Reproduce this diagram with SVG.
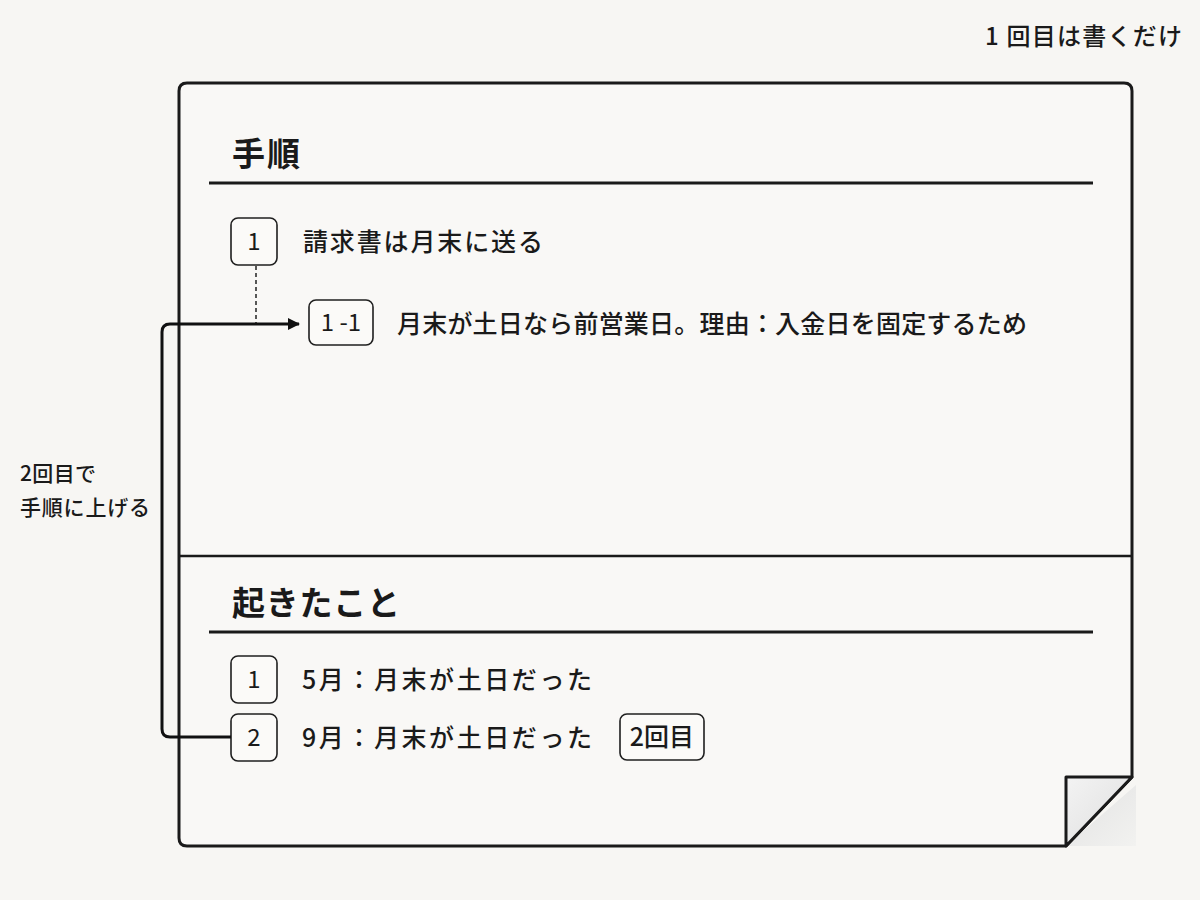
<svg xmlns="http://www.w3.org/2000/svg" width="1200" height="900" viewBox="0 0 1200 900">
<style>
.t{font-family:"Noto Sans CJK JP","Noto Sans",sans-serif;fill:#1a1a1a;font-weight:500}
.h{font-size:33px;font-weight:700}
.b{font-size:25px}
.n{font-size:24px;font-weight:400}
.s{font-size:21px}
.box{fill:#fbfaf8;stroke:#1f1f1f;stroke-width:1.6}
</style>
<defs>
<marker id="ah" markerWidth="12" markerHeight="12" refX="11" refY="6" orient="auto" markerUnits="userSpaceOnUse" viewBox="0 0 12 12">
<path d="M0,0 L12,6 L0,12 z" fill="#111"/>
</marker>
<linearGradient id="fold" x1="0" y1="0" x2="1" y2="1">
<stop offset="0" stop-color="#f3f3f3"/><stop offset="1" stop-color="#dedede"/>
</linearGradient>
<linearGradient id="shadow" x1="0" y1="0" x2="1" y2="1">
<stop offset="0" stop-color="#e2e2e2"/><stop offset="1" stop-color="#f2f2f0"/>
</linearGradient>
</defs>
<rect width="1200" height="900" fill="#f7f6f3"/>
<g id="note-card">
<path d="M1066,846 L1136,846 L1136,785 Z" fill="url(#shadow)"/>
<path d="M187,83 L1124,83 Q1132,83 1132,91 L1132,777 L1066,846 L187,846 Q179,846 179,838 L179,91 Q179,83 187,83 Z" fill="#f9f8f6" stroke="#1a1a1a" stroke-width="3" stroke-linejoin="round"/>
<path d="M1066,777 L1132,777 L1066,846 Z" fill="url(#fold)" stroke="#1a1a1a" stroke-width="3" stroke-linejoin="round"/>
<line x1="179" y1="556" x2="1132" y2="556" stroke="#1a1a1a" stroke-width="2.5"/>
</g>
<g id="note-top">
<text class="t" x="985" y="45" font-size="24" textLength="197" lengthAdjust="spacing">1 回目は書くだけ</text>
</g>
<g id="section-procedure">
<text class="t h" x="232" y="166" textLength="68" lengthAdjust="spacing">手順</text>
<line x1="209" y1="183" x2="1093" y2="183" stroke="#1a1a1a" stroke-width="3"/>
</g>
<g id="step-1">
<rect class="box" x="231" y="218" width="46" height="47" rx="7"/>
<text class="t n" x="254" y="250" text-anchor="middle">1</text>
<text class="t b" x="303" y="251" textLength="240" lengthAdjust="spacing">請求書は月末に送る</text>
</g>
<g id="step-1-1">
<rect class="box" x="309" y="300" width="64" height="45" rx="7"/>
<text class="t n" x="341" y="331" text-anchor="middle">1 -1</text>
<text class="t b" x="397" y="333" textLength="630" lengthAdjust="spacing">月末が土日なら前営業日。理由：入金日を固定するため</text>
</g>
<g id="section-events">
<text class="t h" x="232" y="615" textLength="168" lengthAdjust="spacing">起きたこと</text>
<line x1="209" y1="632" x2="1093" y2="632" stroke="#1a1a1a" stroke-width="3"/>
</g>
<g id="event-1">
<rect class="box" x="231" y="656" width="46" height="47" rx="7"/>
<text class="t n" x="254" y="688" text-anchor="middle">1</text>
<text class="t b" x="302" y="689" textLength="290" lengthAdjust="spacing">5月：月末が土日だった</text>
</g>
<g id="event-2">
<rect class="box" x="231" y="714" width="46" height="47" rx="7"/>
<text class="t n" x="254" y="746" text-anchor="middle">2</text>
<text class="t b" x="302" y="747" textLength="290" lengthAdjust="spacing">9月：月末が土日だった</text>
<rect class="box" x="620" y="714" width="84" height="46" rx="7"/>
<text class="t" x="662" y="746" font-size="25" text-anchor="middle">2回目</text>
</g>
<g id="label-promote">
<text class="t s" x="20" y="481" textLength="76" lengthAdjust="spacing">2回目で</text>
<text class="t s" x="20" y="515" textLength="130" lengthAdjust="spacing">手順に上げる</text>
</g>
<g id="connectors">
<line x1="256" y1="266" x2="256" y2="323" stroke="#222" stroke-width="1.5" stroke-dasharray="4,3"/>
<path d="M231,737 L170,737 Q162,737 162,729 L162,332 Q162,324 170,324 L299,324" fill="none" stroke="#111" stroke-width="3" marker-end="url(#ah)"/>
</g>
</svg>
